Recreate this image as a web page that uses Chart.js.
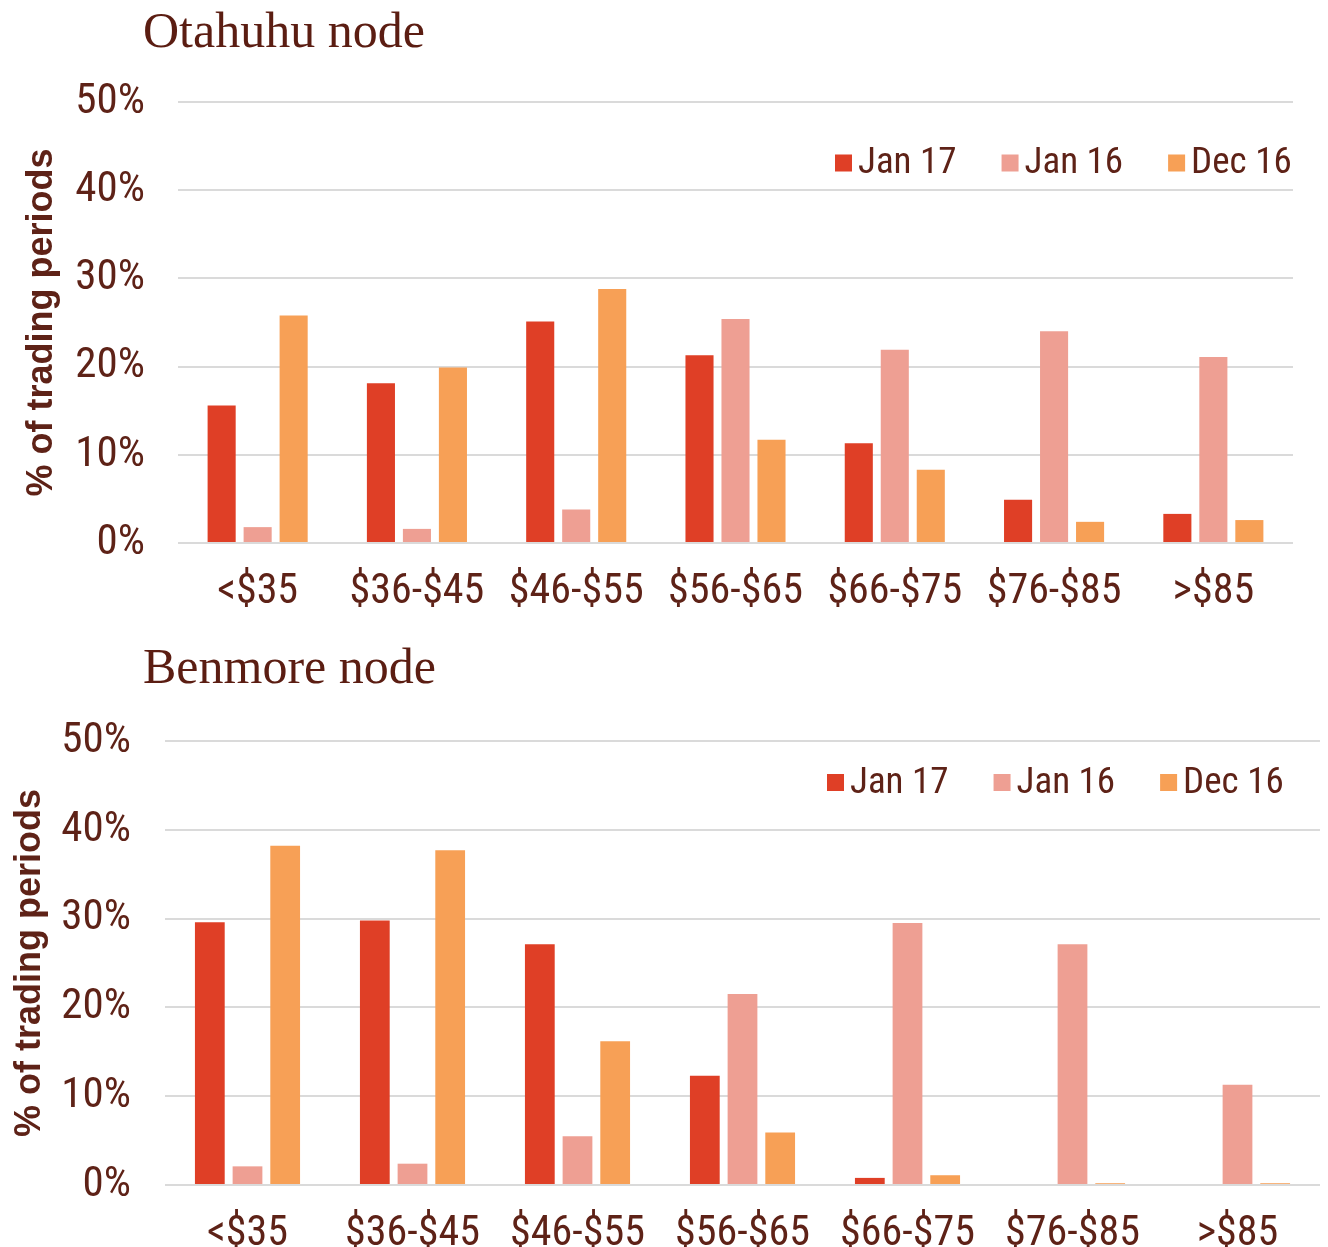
<!DOCTYPE html>
<html>
<head>
<meta charset="utf-8">
<script src="https://cdn.jsdelivr.net/npm/chart.js@4.4.1/dist/chart.umd.min.js"></script>
<style>
    html, body { margin: 0; padding: 0; background: #ffffff; }
    #wrap { position: relative; width: 1328px; height: 1247px; overflow: hidden; }
    .node-title {
        position: absolute;
        left: 143px;
        margin: 0;
        font-family: 'Liberation Serif', 'Times New Roman', serif;
        font-weight: normal;
        font-size: 50px;
        line-height: 50px;
        color: #5b1d12;
        white-space: nowrap;
    }
    canvas { position: absolute; left: 0; }
</style>
</head>
<body>
<div id="wrap">
    <h2 class="node-title" style="top:5px">Otahuhu node</h2>
    <canvas id="otahuhuChart" width="1328" height="630" style="top:0"></canvas>
    <h2 class="node-title" style="top:641px">Benmore node</h2>
    <canvas id="benmoreChart" width="1328" height="617" style="top:630px"></canvas>
</div>
<script>
// price bands on the x axis
const categories = ['<$35', '$36-$45', '$46-$55', '$56-$65', '$66-$75', '$76-$85', '>$85'];
const seriesNames = ['Jan 17', 'Jan 16', 'Dec 16'];

// % of trading periods
const otahuhuJan17 = [15.6, 18.1, 25.1, 21.3, 11.3, 4.9, 3.3];
const otahuhuJan16 = [1.8, 1.6, 3.8, 25.4, 21.9, 24.0, 21.1];
const otahuhuDec16 = [25.8, 19.9, 28.8, 11.7, 8.3, 2.4, 2.6];

const benmoreJan17 = [29.6, 29.8, 27.1, 12.3, 0.8, 0, 0];
const benmoreJan16 = [2.1, 2.4, 5.5, 21.5, 29.5, 27.1, 11.3];
const benmoreDec16 = [38.2, 37.7, 16.2, 5.9, 1.1, 0.2, 0.2];

const yMax = 50;
const yStep = 10;

const colors = {
    jan17: '#df3f26',
    jan16: '#ee9f93',
    dec16: '#f7a056',
    text: '#5e2217',
    grid: '#dadada'
};

const narrowFont = "'Roboto Condensed', 'Liberation Sans Narrow', 'Arial Narrow', sans-serif";

// legend sits inside the plot, top right, drawn by hand so the spacing matches
const insideLegend = {
    id: 'insideLegend',
    afterDraw(chart, args, opts) {
        const ctx = chart.ctx;
        ctx.save();
        ctx.font = '37px ' + narrowFont;
        ctx.textBaseline = 'middle';
        ctx.textAlign = 'left';
        let x = opts.left;
        chart.data.datasets.forEach(ds => {
            ctx.fillStyle = ds.backgroundColor;
            ctx.fillRect(x, opts.centerY - 8.5, 17, 17);
            ctx.fillStyle = colors.text;
            ctx.fillText(ds.label, x + 23, opts.centerY + 1);
            x += 23 + ctx.measureText(ds.label).width + 45;
        });
        ctx.restore();
    }
};

function makeDatasets(a, b, c, catPct, barPct) {
    const vals = [a, b, c];
    const fills = [colors.jan17, colors.jan16, colors.dec16];
    return seriesNames.map((name, i) => ({
        label: name,
        data: vals[i],
        backgroundColor: fills[i],
        borderWidth: 0,
        categoryPercentage: catPct,
        barPercentage: barPct
    }));
}

function createNodeChart(canvasId, datasets, layout) {
    const ctx = document.getElementById(canvasId).getContext('2d');
    return new Chart(ctx, {
        type: 'bar',
        data: { labels: categories, datasets: datasets },
        plugins: [insideLegend],
        options: {
            responsive: false,
            animation: false,
            devicePixelRatio: 1,
            layout: { padding: { top: layout.top, right: layout.right, left: 0, bottom: 0 } },
            plugins: {
                legend: { display: false },
                tooltip: { enabled: false },
                insideLegend: { left: layout.legendLeft, centerY: layout.legendY }
            },
            scales: {
                x: {
                    grid: { display: false },
                    border: { display: false },
                    ticks: {
                        color: colors.text,
                        padding: 16,
                        maxRotation: 0,
                        autoSkip: false,
                        font: { family: narrowFont, size: 42 }
                    },
                    afterFit(scale) { scale.height = layout.xHeight; }
                },
                y: {
                    min: 0,
                    max: yMax,
                    grid: { color: colors.grid, lineWidth: 2, drawTicks: false },
                    border: { display: false },
                    ticks: {
                        stepSize: yStep,
                        color: colors.text,
                        padding: layout.tickPad,
                        font: { family: narrowFont, size: 43 },
                        callback: v => v + '%'
                    },
                    title: {
                        display: true,
                        text: '% of trading periods',
                        color: colors.text,
                        padding: { top: layout.titlePad, bottom: 0 },
                        font: { family: "'Liberation Sans', Arial, sans-serif", size: 36, weight: 'bold' }
                    },
                    afterFit(scale) { scale.width = layout.yWidth; }
                }
            }
        }
    });
}

createNodeChart('otahuhuChart',
    makeDatasets(otahuhuJan17, otahuhuJan16, otahuhuDec16, 0.678, 0.78),
    { top: 102, right: 35, xHeight: 87, yWidth: 178, tickPad: 33, titlePad: 20, legendLeft: 835, legendY: 163 });

createNodeChart('benmoreChart',
    makeDatasets(benmoreJan17, benmoreJan16, benmoreDec16, 0.685, 0.79),
    { top: 111, right: 8, xHeight: 62, yWidth: 165, tickPad: 34, titlePad: 8, legendLeft: 827, legendY: 152.5 });
</script>
</body>
</html>
